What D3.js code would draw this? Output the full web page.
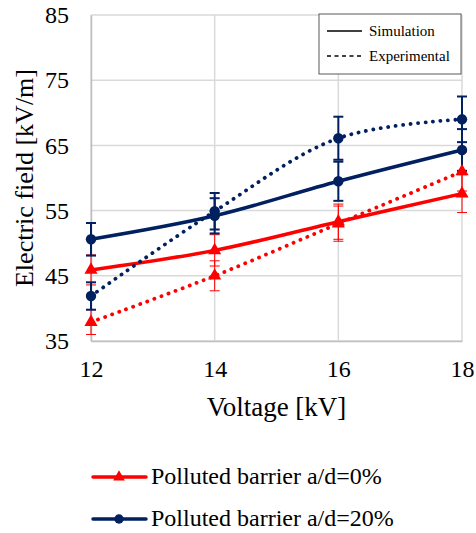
<!DOCTYPE html>
<html>
<head>
<meta charset="utf-8" />
<title>electric field</title>
<script src="https://cdn.jsdelivr.net/npm/d3@7"></script>
<style>
  body { margin: 0; background: #fff; }
</style>
</head>
<body>
<svg width="476" height="533"></svg>
<script>
// data
var voltage = [12, 14, 16, 18];
var redSim = [45.9, 48.9, 53.3, 57.6];
var redSimErr = [2.3, 2.4, 2.7, 2.9];
var redExp = [37.9, 45.0, 53.0, 61.0];
var redExpErr = [1.9, 2.3, 2.7, 3.0];
var blueSim = [50.6, 54.2, 59.5, 64.3];
var blueSimErr = [2.5, 2.7, 3.0, 3.2];
var blueExp = [41.9, 54.9, 66.1, 69.0];
var blueExpErr = [2.1, 2.8, 3.3, 3.5];
var yTicks = [35, 45, 55, 65, 75, 85];
var xTicks = [12, 14, 16, 18];

var marge = {top: 15, left: 91, right: 14, bottom: 192};
var svg = d3.select("svg");
var width = +svg.attr("width");
var height = +svg.attr("height");

var x = d3.scaleLinear().domain([12, 18]).range([marge.left, width - marge.right]);
var y = d3.scaleLinear().domain([35, 85]).range([height - marge.bottom, marge.top]);

var red = "#ff0000", navy = "#002060";
var serif = "\"Liberation Serif\", \"Times New Roman\", serif";

// grid
var g = svg.append("g");
g.selectAll(".hg").data(yTicks).enter().append("line")
  .attr("x1", x(12)).attr("x2", x(18))
  .attr("y1", function(d){ return y(d); }).attr("y2", function(d){ return y(d); })
  .attr("stroke", "#d9d9d9").attr("stroke-width", 1.5);
g.selectAll(".vg").data(xTicks).enter().append("line")
  .attr("y1", y(35)).attr("y2", y(85))
  .attr("x1", function(d){ return x(d); }).attr("x2", function(d){ return x(d); })
  .attr("stroke", "#d9d9d9").attr("stroke-width", 1.5);

// axes (labels only, lines drawn by grid)
var yAxis = svg.append("g").attr("transform", "translate(" + x(12) + ",0)")
  .call(d3.axisLeft(y).tickValues(yTicks).tickFormat(d3.format("d")).tickSize(0).tickPadding(22));
var xAxis = svg.append("g").attr("transform", "translate(0," + y(35) + ")")
  .call(d3.axisBottom(x).tickValues(xTicks).tickFormat(d3.format("d")).tickSize(0).tickPadding(19));
[yAxis, xAxis].forEach(function(a){
  a.attr("font-family", null).attr("font-size", null);
  a.select(".domain").attr("stroke", "#bfbfbf").attr("stroke-width", 1.5);
  a.selectAll("text").attr("fill", "#000");
});

svg.append("text").attr("transform", "translate(33," + ((y(35) + y(85)) / 2) + ") rotate(-90)")
  .attr("text-anchor", "middle").attr("class", "big").text("Electric field [kV/m]");
svg.append("text").attr("x", (x(12) + x(18)) / 2).attr("y", 416)
  .attr("text-anchor", "middle").attr("class", "big2").text("Voltage [kV]");

var series = [
  {vals: redSim, err: redSimErr, color: red, dotted: false, sym: d3.symbolTriangle, ew: 1},
  {vals: redExp, err: redExpErr, color: red, dotted: true, sym: d3.symbolTriangle, ew: 1},
  {vals: blueSim, err: blueSimErr, color: navy, dotted: false, sym: d3.symbolCircle, ew: 2},
  {vals: blueExp, err: blueExpErr, color: navy, dotted: true, sym: d3.symbolCircle, ew: 2}
];

var line = d3.line()
  .x(function(d, i){ return x(voltage[i]); })
  .y(function(d){ return y(d); })
  .curve(d3.curveCatmullRom.alpha(0.5));

// error bars
series.forEach(function(s){
  var eg = svg.append("g").attr("stroke", s.color).attr("stroke-width", s.ew);
  s.vals.forEach(function(v, i){
    var cx = x(voltage[i]);
    eg.append("line").attr("x1", cx).attr("x2", cx).attr("y1", y(v - s.err[i])).attr("y2", y(v + s.err[i]));
    [v - s.err[i], v + s.err[i]].forEach(function(e){
      eg.append("line").attr("x1", cx - 5).attr("x2", cx + 5).attr("y1", y(e)).attr("y2", y(e));
    });
  });
});

// lines and markers
series.forEach(function(s){
  svg.append("path").datum(s.vals).attr("d", line)
    .attr("fill", "none").attr("stroke", s.color).attr("stroke-width", s.dotted ? 3.8 : 3.5)
    .attr("stroke-linecap", "round")
    .attr("stroke-dasharray", s.dotted ? "0.1,7.4" : null);
  svg.selectAll(null).data(s.vals).enter().append("path")
    .attr("d", d3.symbol().type(s.sym).size(s.sym === d3.symbolCircle ? 85 : 75))
    .attr("transform", function(d, i){ return "translate(" + x(voltage[i]) + "," + y(d) + ")"; })
    .attr("fill", s.color);
});

// style legend (top right)
var lg = svg.append("g");
lg.append("rect").attr("x", 319).attr("y", 14).attr("width", 142).attr("height", 60)
  .attr("fill", "#fff").attr("stroke", "#595959").attr("stroke-width", 1);
lg.append("line").attr("x1", 327).attr("x2", 362).attr("y1", 31).attr("y2", 31)
  .attr("stroke", "#000").attr("stroke-width", 1.5);
lg.append("line").attr("x1", 327).attr("x2", 362).attr("y1", 56).attr("y2", 56)
  .attr("stroke", "#000").attr("stroke-width", 1.5).attr("stroke-dasharray", "4,3.5");
lg.append("text").attr("x", 369).attr("y", 36).attr("class", "small").text("Simulation");
lg.append("text").attr("x", 369).attr("y", 61).attr("class", "small").text("Experimental");

// series legend (bottom)
var legendItems = [
  {label: "Polluted barrier a/d=0%", color: red, sym: d3.symbolTriangle, yy: 477},
  {label: "Polluted barrier a/d=20%", color: navy, sym: d3.symbolCircle, yy: 519}
];
legendItems.forEach(function(it){
  svg.append("line").attr("x1", 93).attr("x2", 146).attr("y1", it.yy).attr("y2", it.yy)
    .attr("stroke", it.color).attr("stroke-width", 3.5).attr("stroke-linecap", "round");
  svg.append("path").attr("d", d3.symbol().type(it.sym).size(it.sym === d3.symbolCircle ? 70 : 60))
    .attr("transform", "translate(119," + it.yy + ")").attr("fill", it.color);
  svg.append("text").attr("x", 151).attr("y", it.yy + 7).attr("class", "mid").text(it.label);
});

// one font for every text
svg.selectAll("text").style("font-family", serif).style("fill", "#000");
svg.selectAll("g.tick text").style("font-size", "24px");
svg.selectAll("text.big").style("font-size", "26px");
svg.selectAll("text.big2").style("font-size", "27px");
svg.selectAll("text.mid").style("font-size", "24px");
svg.selectAll("text.small").style("font-size", "15px");
</script>
</body>
</html>
